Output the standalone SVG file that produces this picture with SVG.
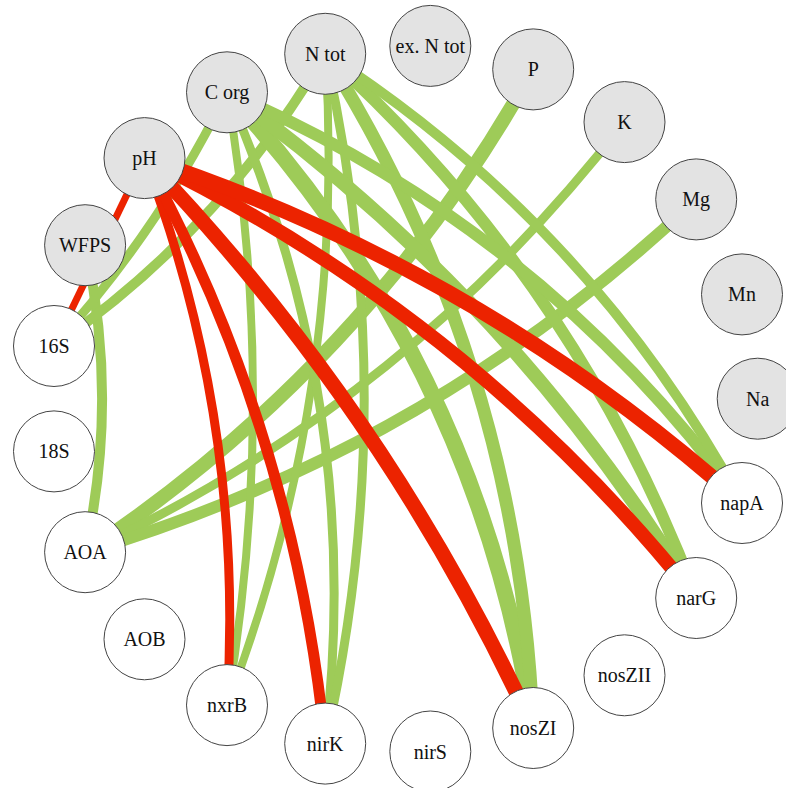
<svg xmlns="http://www.w3.org/2000/svg" width="786" height="788" viewBox="0 0 786 788" font-family="'Liberation Serif', 'DejaVu Serif', serif">
<style>
.e{fill:none;stroke-linecap:butt}
.g{stroke:#9ecb58}
.r{stroke:#ec2300}
.n circle{stroke:#444;stroke-width:1}
.v circle{fill:#e3e3e3}
.s circle{fill:#ffffff}
.n text{font-family:'Liberation Serif','DejaVu Serif',serif;font-size:20px;fill:#111;text-anchor:middle}
</style>
<rect width="786" height="788" fill="#ffffff"/>
<g id="connectors">
<path class="e g" stroke-width="10" d="M85.1,245.2 Q119.1,398.7 85.1,552.2"/>
<path class="e g" stroke-width="9" d="M227,92.3 Q158.7,231.5 54,346"/>
<path class="e g" stroke-width="10" d="M325.2,53.8 Q221.8,229.8 54,346"/>
<path class="e g" stroke-width="14" d="M533.2,69.4 Q367.8,365.2 85.1,552.2"/>
<path class="e g" stroke-width="9" d="M624.5,122.1 Q407.2,402.8 85.1,552.2"/>
<path class="e g" stroke-width="12" d="M696.2,199.4 Q432.6,448.6 85.1,552.2"/>
<path class="e g" stroke-width="8" d="M227,92.3 Q279,398.7 227,705.1"/>
<path class="e g" stroke-width="8" d="M325.2,53.8 Q347.3,390.2 227,705.1"/>
<path class="e g" stroke-width="9" d="M227,92.3 Q365.1,404.5 325.2,743.6"/>
<path class="e g" stroke-width="9" d="M325.2,53.8 Q403.2,398.7 325.2,743.6"/>
<path class="e g" stroke-width="16" d="M227,92.3 Q477.4,363.3 533.2,728"/>
<path class="e g" stroke-width="13" d="M325.2,53.8 Q519,363.2 533.2,728"/>
<path class="e g" stroke-width="14" d="M227,92.3 Q512.9,297.5 696.2,598"/>
<path class="e g" stroke-width="12" d="M325.2,53.8 Q576.8,280.8 696.2,598"/>
<path class="e g" stroke-width="12" d="M227,92.3 Q540.6,227.3 742,503"/>
<path class="e g" stroke-width="10" d="M325.2,53.8 Q590.8,225.3 742,503"/>
<path class="e r" stroke-width="7" d="M144.5,158.1 L54,346"/>
<path class="e r" stroke-width="9" d="M144.5,158.1 Q245.1,422.7 227,705.1"/>
<path class="e r" stroke-width="11" d="M144.5,158.1 Q294.1,432.6 325.2,743.6"/>
<path class="e r" stroke-width="15" d="M144.5,158.1 Q386.8,410.4 533.2,728"/>
<path class="e r" stroke-width="14" d="M144.5,158.1 Q470.2,315.5 696.2,598"/>
<path class="e r" stroke-width="15" d="M144.5,158.1 Q478,268 742,503"/>
</g>
<g id="Na" class="n v"><circle cx="757.7" cy="398.7" r="40.5"/><text x="757.7" y="405.7">Na</text></g>
<g id="Mn" class="n v"><circle cx="742" cy="294.4" r="40.5"/><text x="742" y="301.4">Mn</text></g>
<g id="Mg" class="n v"><circle cx="696.2" cy="199.4" r="40.5"/><text x="696.2" y="206.4">Mg</text></g>
<g id="K" class="n v"><circle cx="624.5" cy="122.1" r="40.5"/><text x="624.5" y="129.1">K</text></g>
<g id="P" class="n v"><circle cx="533.2" cy="69.4" r="40.5"/><text x="533.2" y="76.4">P</text></g>
<g id="exNtot" class="n v"><circle cx="430.3" cy="45.9" r="40.5"/><text x="430.3" y="52.9">ex. N tot</text></g>
<g id="Ntot" class="n v"><circle cx="325.2" cy="53.8" r="40.5"/><text x="325.2" y="60.8">N tot</text></g>
<g id="Corg" class="n v"><circle cx="227" cy="92.3" r="40.5"/><text x="227" y="99.3">C org</text></g>
<g id="pH" class="n v"><circle cx="144.5" cy="158.1" r="40.5"/><text x="144.5" y="165.1">pH</text></g>
<g id="WFPS" class="n v"><circle cx="85.1" cy="245.2" r="40.5"/><text x="85.1" y="252.2">WFPS</text></g>
<g id="n16S" class="n s"><circle cx="54" cy="346" r="40.5"/><text x="54" y="353">16S</text></g>
<g id="n18S" class="n s"><circle cx="54" cy="451.4" r="40.5"/><text x="54" y="458.4">18S</text></g>
<g id="AOA" class="n s"><circle cx="85.1" cy="552.2" r="40.5"/><text x="85.1" y="559.2">AOA</text></g>
<g id="AOB" class="n s"><circle cx="144.5" cy="639.3" r="40.5"/><text x="144.5" y="646.3">AOB</text></g>
<g id="nxrB" class="n s"><circle cx="227" cy="705.1" r="40.5"/><text x="227" y="712.1">nxrB</text></g>
<g id="nirK" class="n s"><circle cx="325.2" cy="743.6" r="40.5"/><text x="325.2" y="750.6">nirK</text></g>
<g id="nirS" class="n s"><circle cx="430.3" cy="751.5" r="40.5"/><text x="430.3" y="758.5">nirS</text></g>
<g id="nosZI" class="n s"><circle cx="533.2" cy="728" r="40.5"/><text x="533.2" y="735">nosZI</text></g>
<g id="nosZII" class="n s"><circle cx="624.5" cy="675.3" r="40.5"/><text x="624.5" y="682.3">nosZII</text></g>
<g id="narG" class="n s"><circle cx="696.2" cy="598" r="40.5"/><text x="696.2" y="605">narG</text></g>
<g id="napA" class="n s"><circle cx="742" cy="503" r="40.5"/><text x="742" y="510">napA</text></g>
</svg>
